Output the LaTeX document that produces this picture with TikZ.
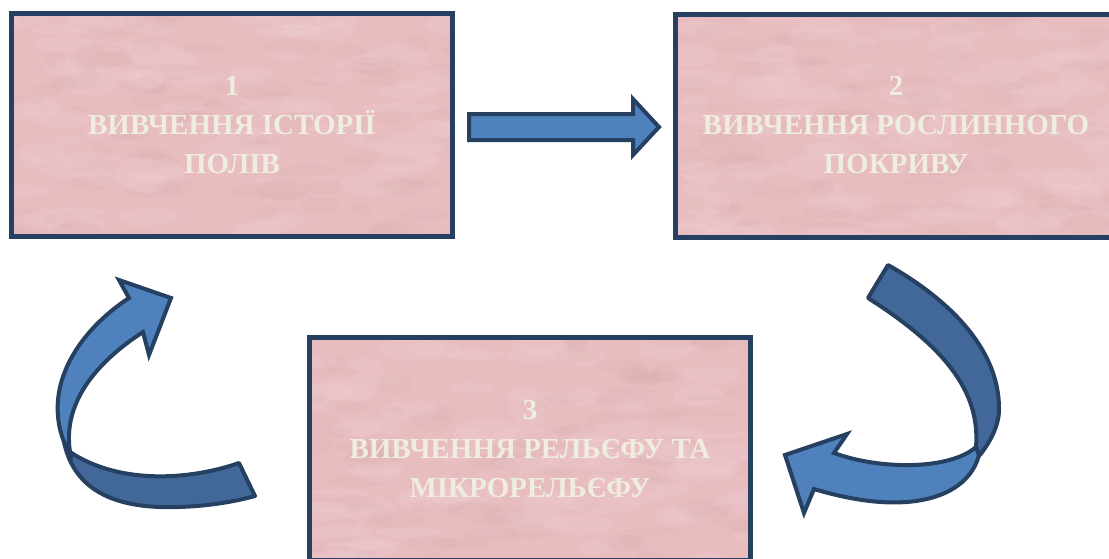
\documentclass[tikz,border=0pt]{standalone}
\usepackage{fontspec}
\setmainfont{Liberation Serif}
\usetikzlibrary{calc}
\definecolor{boxfill}{RGB}{232,189,192}
\definecolor{blotdark}{RGB}{180,120,130}
\definecolor{navy}{RGB}{38,64,98}
\definecolor{txt}{RGB}{239,236,224}
\definecolor{arrowlight}{RGB}{79,129,189}
\definecolor{arrowdark}{RGB}{65,104,152}
\tikzset{
  mottle/.style={path picture={
    \pgfmathsetseed{#1}
    \foreach \i in {1,...,90}{
      \fill[white, opacity=0.06] ($(path picture bounding box.north west)+(rnd*450,rnd*230)$) ellipse ({14+rnd*24} and {4+rnd*8});
      \fill[blotdark, opacity=0.04] ($(path picture bounding box.north west)+(rnd*450,rnd*230)$) ellipse ({10+rnd*20} and {3+rnd*7});
    }
  }},
  stagebox/.style={draw=navy, line width=5pt, fill=boxfill, minimum width=441pt, minimum height=223pt, inner sep=0pt, align=center, text=txt, font=\fontsize{29}{39}\selectfont\bfseries},
  lightpart/.style={draw=navy, line width=4pt, fill=arrowlight, line join=miter},
  darkpart/.style={draw=navy, line width=4pt, fill=arrowdark, line join=round}
}
\begin{document}
\begin{tikzpicture}[x=1pt, y=-1pt]
\useasboundingbox (0,0) rectangle (1109,558);
\clip (0,0) rectangle (1109,558);
\fill[white] (0,0) rectangle (1109,558);

\node[stagebox, mottle=11] (s1) at (232,125) {1\\ВИВЧЕННЯ ІСТОРІЇ\\ПОЛІВ};
\node[stagebox, mottle=23] (s2) at (896,125.5) {2\\ВИВЧЕННЯ РОСЛИННОГО\\ПОКРИВУ};
\node[stagebox, mottle=37] (s3) at (530,449) {3\\ВИВЧЕННЯ РЕЛЬЄФУ ТА\\МІКРОРЕЛЬЄФУ};

% straight arrow 1 -> 2
\draw[lightpart] (469,114) -- (633,114) -- (633,99) -- (659,127) -- (633,155) -- (633,140) -- (469,140) -- cycle;

% curved arrow 2 -> 3 (right)
\draw[darkpart] (888,265) .. controls (950,300) and (1000,350) .. (999,410)
  .. controls (999,425) and (990,443) .. (979,456) -- (976,447)
  .. controls (980,395) and (950,350) .. (868,298) -- cycle;
\draw[lightpart] (979,455) .. controls (968,497) and (910,518) .. (814,489)
  -- (804,513) -- (785,455) -- (847,434) -- (834,453)
  .. controls (880,470) and (950,470) .. (976,447) -- cycle;

% curved arrow 3 -> 1 (left)
\draw[darkpart] (64,442) .. controls (72,480) and (100,505) .. (160,507)
  .. controls (195,508) and (230,503) .. (255,496) -- (239,463)
  .. controls (190,480) and (120,485) .. (70,452) -- cycle;
\draw[lightpart] (129,298) -- (119,280) -- (171,298) -- (149,355) -- (143,332)
  .. controls (100,360) and (62,400) .. (70,452) -- (64,442)
  .. controls (42,385) and (80,330) .. (129,298) -- cycle;
\end{tikzpicture}
\end{document}
